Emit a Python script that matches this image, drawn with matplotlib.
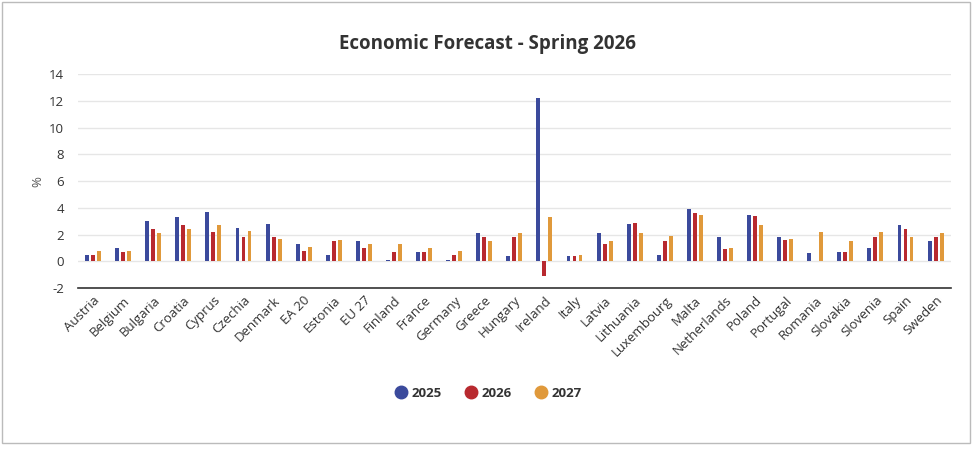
import matplotlib
matplotlib.use("Agg")
import matplotlib.pyplot as plt
from matplotlib.lines import Line2D
from matplotlib.patches import Rectangle
import numpy as np

countries = ["Austria", "Belgium", "Bulgaria", "Croatia", "Cyprus", "Czechia",
             "Denmark", "EA 20", "Estonia", "EU 27", "Finland", "France",
             "Germany", "Greece", "Hungary", "Ireland", "Italy", "Latvia",
             "Lithuania", "Luxembourg", "Malta", "Netherlands", "Poland",
             "Portugal", "Romania", "Slovakia", "Slovenia", "Spain", "Sweden"]

g2025 = [0.5, 1.0, 3.0, 3.3, 3.7, 2.5, 2.8, 1.3, 0.5, 1.5, 0.1, 0.7,
         0.1, 2.1, 0.4, 12.2, 0.4, 2.1, 2.8, 0.5, 3.9, 1.8, 3.5,
         1.8, 0.6, 0.7, 1.0, 2.7, 1.5]
g2026 = [0.5, 0.7, 2.4, 2.7, 2.2, 1.8, 1.8, 0.8, 1.5, 1.0, 0.7, 0.7,
         0.5, 1.8, 1.8, -1.1, 0.4, 1.3, 2.9, 1.5, 3.6, 0.9, 3.4,
         1.6, 0.05, 0.7, 1.8, 2.4, 1.8]
g2027 = [0.8, 0.8, 2.1, 2.4, 2.7, 2.3, 1.7, 1.1, 1.6, 1.3, 1.3, 1.0,
         0.8, 1.5, 2.1, 3.3, 0.5, 1.5, 2.1, 1.9, 3.5, 1.0, 2.7,
         1.7, 2.2, 1.5, 2.2, 1.8, 2.1]

years = ["2025", "2026", "2027"]
colors = ["#3B4A9C", "#B8292F", "#E0993B"]

plt.rcParams['font.family'] = ['Open Sans', 'DejaVu Sans']
plt.rcParams['axes.unicode_minus'] = False

fig = plt.figure(figsize=(9.75, 4.51), dpi=100)
ax = fig.add_axes([0.08, 0.361, 0.895, 0.475])

x = np.arange(len(countries))
offset = 0.2
width = 0.13
for i, (vals, col) in enumerate(zip([g2025, g2026, g2027], colors)):
    ax.bar(x + (i - 1) * offset, vals, width=width, color=col, zorder=3)

ax.set_xlim(-0.5, len(countries) - 0.5)
ax.set_ylim(-2, 14)
ax.set_yticks(range(-2, 15, 2))
ax.tick_params(axis='y', length=0, labelsize=9.5, labelcolor='#333333', pad=10)
ax.tick_params(axis='x', length=0, labelsize=9.5, labelcolor='#333333', pad=4)
ax.set_xticks(x)
ax.set_xticklabels(countries, rotation=45, ha='right', rotation_mode='anchor')
ax.grid(axis='y', color='#e6e6e6', linewidth=1, zorder=0)
for s in ['top', 'right', 'left']:
    ax.spines[s].set_visible(False)
ax.spines['bottom'].set_color('#333333')
ax.spines['bottom'].set_linewidth(1.2)
ax.set_ylabel('%', fontsize=9.5, color='#555555', labelpad=3)

fig.text(0.5, 0.903, 'Economic Forecast - Spring 2026', ha='center', va='center',
         fontsize=13.5, fontweight='bold', color='#333333')

handles = [Line2D([0], [0], marker='o', linestyle='none', markersize=9,
                  markerfacecolor=c, markeredgecolor=c) for c in colors]
leg = fig.legend(handles, years, loc='center', bbox_to_anchor=(0.5, 0.128),
                 ncol=3, frameon=False, handletextpad=0.2, columnspacing=1.6,
                 handlelength=1.2, prop={'weight': 'bold', 'size': 9.5})
for t in leg.get_texts():
    t.set_color('#333333')

fig.patches.append(Rectangle((2 / 975, 1 - 443 / 451), 968 / 975, 441 / 451,
                             transform=fig.transFigure, fill=False,
                             edgecolor='#bbbbbb', linewidth=1))

fig.savefig('out.png', dpi=100)
